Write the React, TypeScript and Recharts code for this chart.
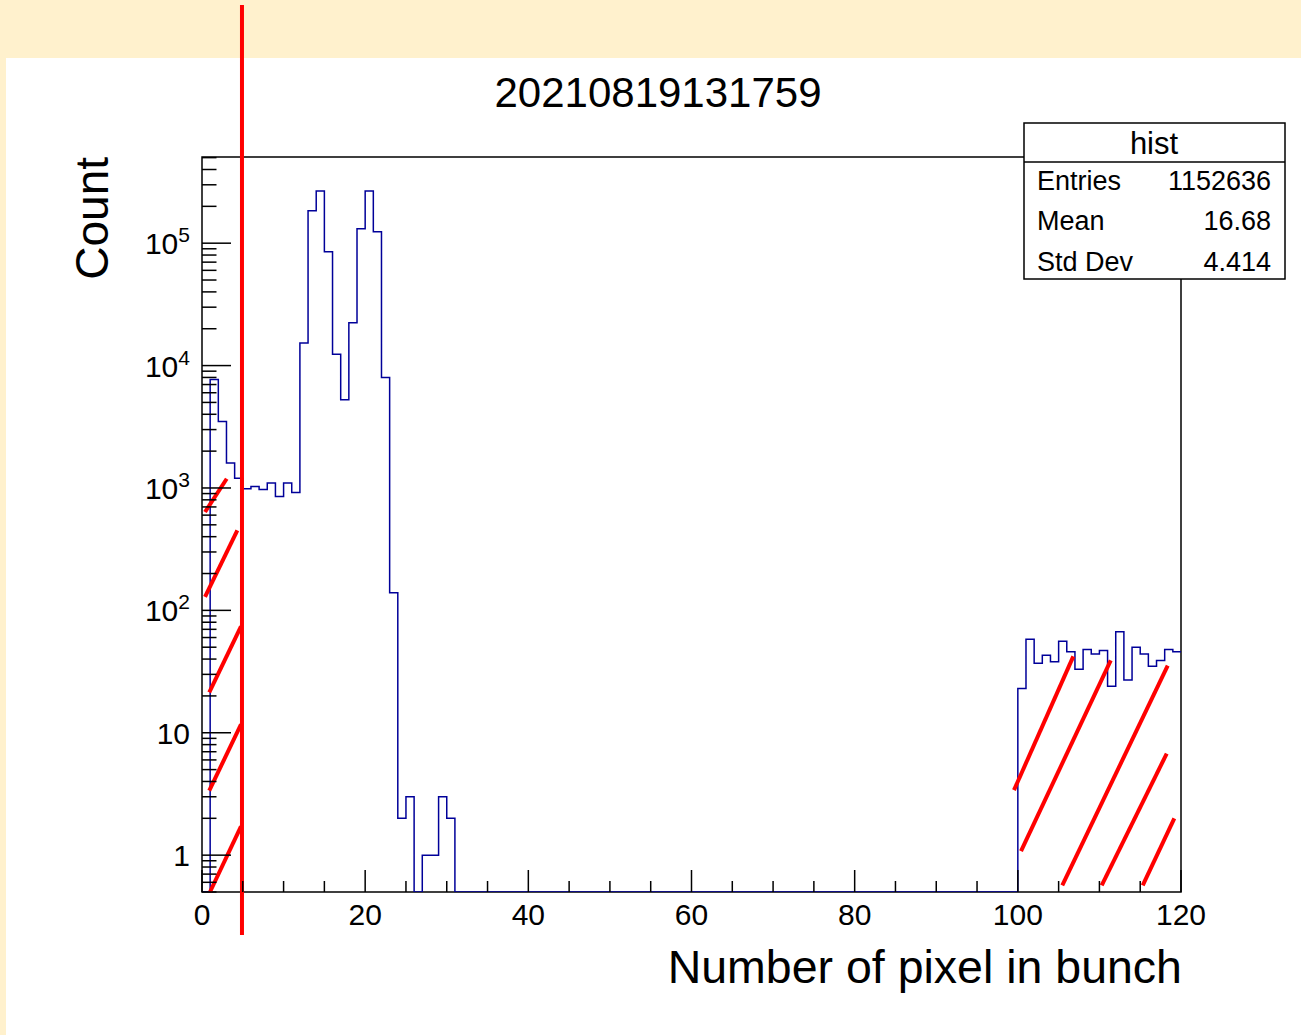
import React from 'react';
import { LineChart, Line, XAxis, YAxis, ReferenceLine, ReferenceArea } from 'recharts';

const chartTitle = '20210819131759';
const xTitle = 'Number of pixel in bunch';
const yTitle = 'Count';

// bin lower edges 0..119 (bin width 1); counts per bin
const binCounts: number[] = [
  0, 7700, 3500, 1600, 1200, 985, 1030, 970, 1100, 850,
  1100, 920, 15300, 184000, 267000, 85300, 12400, 5250, 22400, 131000,
  267000, 124000, 7980, 139, 2, 3, 0, 1, 1, 3,
  2, 0, 0, 0, 0, 0, 0, 0, 0, 0,
  0, 0, 0, 0, 0, 0, 0, 0, 0, 0,
  0, 0, 0, 0, 0, 0, 0, 0, 0, 0,
  0, 0, 0, 0, 0, 0, 0, 0, 0, 0,
  0, 0, 0, 0, 0, 0, 0, 0, 0, 0,
  0, 0, 0, 0, 0, 0, 0, 0, 0, 0,
  0, 0, 0, 0, 0, 0, 0, 0, 0, 0,
  23, 58, 37, 43, 38, 56, 46, 33, 48, 44,
  47, 24, 67, 27, 50, 44, 35, 39, 48, 46,
];

const xMin = 0;
const xMax = 120;
const yMin = 0.5;
const yMax = 506000;

const xTicks: number[] = [0, 5, 10, 15, 20, 25, 30, 35, 40, 45, 50, 55, 60, 65, 70, 75, 80, 85, 90, 95, 100, 105, 110, 115, 120];
const yTicks: number[] = [
  0.5, 0.6, 0.7, 0.8, 0.9,
  1, 2, 3, 4, 5, 6, 7, 8, 9,
  10, 20, 30, 40, 50, 60, 70, 80, 90,
  100, 200, 300, 400, 500, 600, 700, 800, 900,
  1000, 2000, 3000, 4000, 5000, 6000, 7000, 8000, 9000,
  10000, 20000, 30000, 40000, 50000, 60000, 70000, 80000, 90000,
  100000, 200000, 300000, 400000, 500000,
];

const statsName = 'hist';
const statsLabels: string[] = ['Entries', 'Mean', 'Std Dev'];
const statsValues: string[] = ['1152636', '16.68', '4.414'];

// red annotation: cut line and hatch strokes [x1, y1, x2, y2] in data units
const cutX = 4.9;
const hatchSegments: number[][] = [
  [0.37, 636, 3.03, 1189],
  [0.37, 129, 4.33, 450],
  [0.89, 21.4, 4.78, 74],
  [0.89, 3.37, 4.78, 11.7],
  [0.98, 0.5, 4.78, 1.72],
  [99.53, 3.4, 106.8, 42.1],
  [100.39, 1.08, 111.39, 39.1],
  [105.45, 0.566, 118.37, 35.4],
  [110.28, 0.566, 118.25, 6.76],
  [115.31, 0.566, 119.18, 2.0],
];

const FONT = "'Liberation Sans', Arial, Helvetica, sans-serif";

const histData = [
  ...binCounts.map((c, i) => ({ x: i, y: c > 0 ? c : yMin })),
  { x: binCounts.length, y: binCounts[binCounts.length - 1] > 0 ? binCounts[binCounts.length - 1] : yMin },
];

const XTick = (props: any) => {
  const { x, y, payload } = props;
  const v = payload.value as number;
  const major = v % 20 === 0;
  const len = major ? 22 : 11;
  return (
    <g>
      <line x1={x} x2={x} y1={y} y2={y - len} stroke="#000" strokeWidth={1.5} />
      {major && (
        <text x={x} y={y + 33} textAnchor="middle" fontSize={30} fontFamily={FONT} fill="#000">
          {v}
        </text>
      )}
    </g>
  );
};

const YTick = (props: any) => {
  const { x, y, payload } = props;
  const v = payload.value as number;
  const lg = Math.log10(v);
  const e = Math.round(lg);
  const major = Math.abs(lg - e) < 1e-6;
  const len = major ? 29 : 14.5;
  let label: React.ReactNode = null;
  if (major) {
    label =
      e <= 1 ? (
        <text x={x - 12} y={y + 11} textAnchor="end" fontSize={30} fontFamily={FONT} fill="#000">
          {String(v)}
        </text>
      ) : (
        <text x={x - 12} y={y + 11} textAnchor="end" fontSize={30} fontFamily={FONT} fill="#000">
          10<tspan dy={-12} fontSize={21}>{e}</tspan>
        </text>
      );
  }
  return (
    <g>
      <line x1={x} x2={x + len} y1={y} y2={y} stroke="#000" strokeWidth={1.5} />
      {label}
    </g>
  );
};

const CutLine = (props: any) => {
  const x = props.x1;
  return <line x1={x} x2={x} y1={5} y2={935} stroke="#ff0000" strokeWidth={4} />;
};

export default function App() {
  const rowY = [190, 230, 271];
  return (
    <div
      style={{
        position: 'absolute',
        left: 0,
        top: 0,
        width: 1301,
        height: 1035,
        background: '#fff1cd',
        fontFamily: FONT,
        overflow: 'hidden',
      }}
    >
      <div style={{ position: 'absolute', left: 6, top: 58, right: 0, bottom: 0, background: '#fff' }} />
      <div style={{ position: 'absolute', left: 0, top: 0 }}>
        <LineChart
          width={1301}
          height={1035}
          data={histData}
          margin={{ top: 157, right: 120, bottom: 113, left: 142 }}
        >
          <XAxis
            dataKey="x"
            type="number"
            domain={[xMin, xMax]}
            ticks={xTicks}
            interval={0}
            tickSize={0}
            tickMargin={0}
            tickLine={false}
            axisLine={false}
            height={30}
            tick={<XTick />}
            allowDataOverflow
          />
          <YAxis
            type="number"
            scale="log"
            domain={[yMin, yMax]}
            ticks={yTicks}
            interval={0}
            tickSize={0}
            tickMargin={0}
            tickLine={false}
            axisLine={false}
            width={60}
            tick={<YTick />}
            allowDataOverflow
          />
          <ReferenceArea
            x1={xMin}
            x2={xMax}
            y1={yMin}
            y2={yMax}
            fill="none"
            fillOpacity={0}
            stroke="#000"
            strokeWidth={1.5}
            ifOverflow="visible"
          />
          <Line
            dataKey="y"
            type="stepAfter"
            stroke="#000099"
            strokeWidth={1.5}
            dot={false}
            activeDot={false}
            isAnimationActive={false}
          />
          {hatchSegments.map((s, i) => (
            <ReferenceLine
              key={i}
              segment={[
                { x: s[0], y: s[1] },
                { x: s[2], y: s[3] },
              ]}
              stroke="#ff0000"
              strokeWidth={4}
              ifOverflow="visible"
            />
          ))}
          <ReferenceLine x={cutX} ifOverflow="visible" shape={<CutLine />} />
        </LineChart>
      </div>
      <svg width={1301} height={1035} style={{ position: 'absolute', left: 0, top: 0 }}>
        <text x={658} y={107} textAnchor="middle" fontSize={42} fontFamily={FONT} fill="#000">
          {chartTitle}
        </text>
        <text x={1182} y={983} textAnchor="end" fontSize={46.5} fontFamily={FONT} fill="#000">
          {xTitle}
        </text>
        <text transform="translate(108,157) rotate(-90)" textAnchor="end" fontSize={46} fontFamily={FONT} fill="#000">
          {yTitle}
        </text>
        <rect x={1024} y={123} width={261} height={156} fill="#fff" stroke="#000" strokeWidth={1.5} />
        <line x1={1024} x2={1285} y1={162} y2={162} stroke="#000" strokeWidth={1.5} />
        <text x={1154} y={154} textAnchor="middle" fontSize={31} fontFamily={FONT} fill="#000">
          {statsName}
        </text>
        {statsLabels.map((l, i) => (
          <g key={l}>
            <text x={1037} y={rowY[i]} fontSize={27} fontFamily={FONT} fill="#000">
              {l}
            </text>
            <text x={1271} y={rowY[i]} textAnchor="end" fontSize={27} fontFamily={FONT} fill="#000">
              {statsValues[i]}
            </text>
          </g>
        ))}
      </svg>
    </div>
  );
}
